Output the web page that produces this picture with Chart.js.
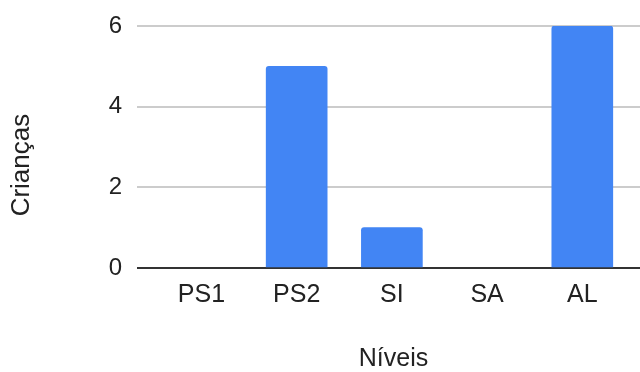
<!DOCTYPE html>
<html>
<head>
<meta charset="utf-8">
<script src="https://cdn.jsdelivr.net/npm/chart.js@4/dist/chart.umd.min.js"></script>
<style>
  html, body { margin: 0; padding: 0; background: #fff; overflow: hidden; }
  #wrap { width: 640px; height: 372px; overflow: hidden; position: relative; }
  canvas { display: block; }
</style>
</head>
<body>
<div id="wrap"><canvas id="c" width="650" height="372"></canvas></div>
<script>
const categories = ['PS1', 'PS2', 'SI', 'SA', 'AL'];
const criancas = [0, 5, 1, 0, 6];
const yTicks = [0, 2, 4, 6];

const FONT = "'Liberation Sans', Arial, sans-serif";
const TEXT = '#222222';

const points = categories.map((c, i) => ({ x: i, y: criancas[i] }));

new Chart(document.getElementById('c'), {
  type: 'bar',
  data: {
    datasets: [{
      label: 'Crianças',
      data: points,
      backgroundColor: (ctx) => (ctx.raw && ctx.raw.y === 0) ? 'rgba(0,0,0,0)' : '#4285F4',
      borderWidth: 0,
      borderRadius: 3,
      borderSkipped: 'start',
      barThickness: 61
    }]
  },
  options: {
    responsive: false,
    animation: false,
    events: [],
    layout: { padding: { top: 26, right: 0, bottom: 0, left: 0 } },
    plugins: { legend: { display: false }, tooltip: { enabled: false } },
    scales: {
      x: {
        type: 'linear',
        offset: false,
        min: -0.677,
        max: 4.711,
        grid: { display: false, drawTicks: false, offset: false },
        border: { display: false },
        ticks: {
          stepSize: 1,
          includeBounds: false,
          autoSkip: false,
          maxRotation: 0,
          padding: 12,
          color: TEXT,
          font: { family: FONT, size: 25 },
          callback: (v) => (Number.isInteger(v) && categories[v] !== undefined) ? categories[v] : ''
        },
        title: {
          display: true,
          text: 'Níveis',
          color: TEXT,
          font: { family: FONT, size: 25, lineHeight: 1 },
          padding: { top: 0, bottom: 0 }
        },
        afterFit: (s) => { s.height = 104; s.paddingLeft = 0; s.paddingRight = 0; }
      },
      y: {
        min: 0,
        max: 6,
        afterBuildTicks: (s) => { s.ticks = yTicks.map(v => ({ value: v })); },
        grid: {
          drawTicks: false,
          lineWidth: 2,
          color: (ctx) => (ctx.tick && ctx.tick.value === 0) ? '#333333' : '#cccccc'
        },
        border: { display: false },
        ticks: {
          padding: 15,
          color: TEXT,
          font: { family: FONT, size: 24 }
        },
        title: {
          display: true,
          text: 'Crianças\u00A0\u00A0\u00A0\u00A0\u00A0',
          color: TEXT,
          font: { family: FONT, size: 26, lineHeight: 1 },
          padding: { top: 9, bottom: 0 }
        },
        afterFit: (s) => { s.width = 137; s.paddingTop = 0; s.paddingBottom = 0; }
      }
    }
  }
});
</script>
</body>
</html>
